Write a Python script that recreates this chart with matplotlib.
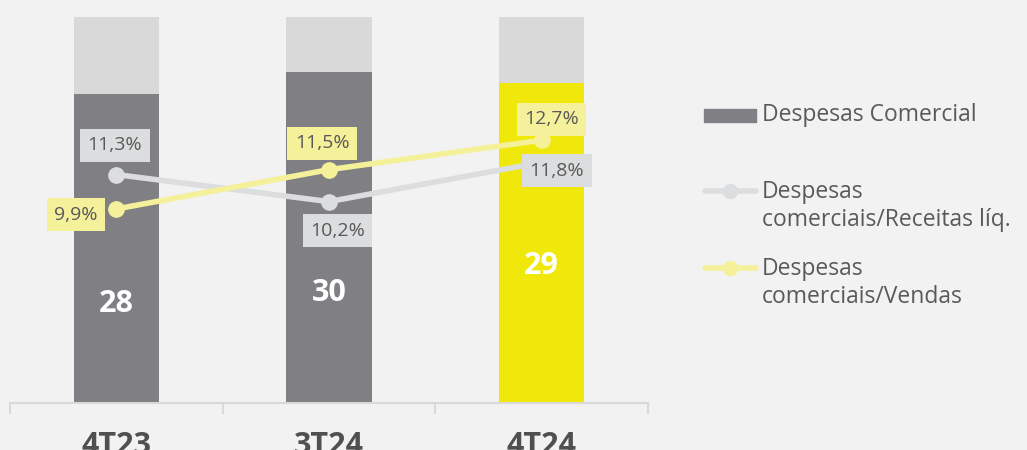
import numpy as np
import matplotlib
matplotlib.use("Agg")
import matplotlib.pyplot as plt
from matplotlib.patches import Rectangle
from matplotlib.lines import Line2D

# dados
trimestres = ["4T23", "3T24", "4T24"]
desp_comercial = [28, 30, 29]
fundo = [35, 35, 35]
pct_receita = [11.3, 10.2, 11.8]
pct_vendas = [9.9, 11.5, 12.7]
pos_valor = [9.0, 10.0, 12.4]  # altura dos números dentro das barras

plt.rcParams['font.family'] = ['Open Sans', 'DejaVu Sans']
BG = "#F2F2F2"
CINZA = "#808084"
CLARO = "#D9D9D9"
AMARELO = "#F0E80A"
AMARELO_L = "#F5F09A"
CINZA_L = "#DCDDDE"
TXT = "#595959"

fig = plt.figure(figsize=(10.27, 4.5), dpi=100)
fig.patch.set_facecolor(BG)
ax = fig.add_axes([10/1027, 47/450, 638/1027, 393/450])#eixo principal
ax.set_facecolor(BG)
x = np.arange(len(trimestres))
cores = [CINZA, CINZA, AMARELO]
ax.bar(x, fundo, width=0.4, color=CLARO, zorder=1)
ax.bar(x, desp_comercial, width=0.4, color=cores, zorder=2)
for xi, v, p in zip(x, desp_comercial, pos_valor):
    ax.text(xi, p, f"{v}", ha="center", va="center", color="white",
            fontsize=22, fontweight="bold", zorder=3)
ax.set_xlim(-0.5, 2.5)
ax.set_ylim(0, 35.6)
for s in ["top", "right", "left"]:
    ax.spines[s].set_visible(False)
ax.spines["bottom"].set_color(CLARO)
ax.spines["bottom"].set_linewidth(1.5)
ax.set_yticks([])
ax.set_xticks([-0.5, 0.5, 1.5, 2.5], minor=False)
ax.set_xticklabels([])
ax.tick_params(axis="x", which="major", length=8, color=CLARO, width=1.5)
ax.set_xticks(x, minor=True)
ax.set_xticklabels(trimestres, minor=True)
ax.tick_params(axis="x", which="minor", length=0, pad=20, labelsize=22,
               labelcolor="#505050")
for t in ax.get_xticklabels(minor=True):
    t.set_fontweight("bold")

# eixo secundário
ax2 = ax.twinx()
ax2.set_ylim(2, 18)
ax2.axis("off")
ax2.plot(x, pct_receita, color=CINZA_L, lw=4, marker="o", ms=11, zorder=4,
         solid_capstyle="round")
ax2.plot(x, pct_vendas, color=AMARELO_L, lw=4, marker="o", ms=11, zorder=5,
         solid_capstyle="round")

def rotulo(xi, yi, dx, dy, txt, cor):
    ax2.annotate(txt, (xi, yi), xytext=(dx, dy), textcoords="offset points",
                 ha="center", va="center", fontsize=14, color=TXT, zorder=6,
                 bbox=dict(boxstyle="square,pad=0.38", fc=cor, ec="none"))

# rótulos (deslocamento em pontos)
rotulo(x[0], pct_receita[0], -1, 21, "11,3%", CINZA_L)
rotulo(x[1], pct_receita[1], 6, -21, "10,2%", CINZA_L)
rotulo(x[2], pct_receita[2], 11, -6, "11,8%", CINZA_L)
rotulo(x[0], pct_vendas[0], -29, -4, "9,9%", AMARELO_L)
rotulo(x[1], pct_vendas[1], -5, 19, "11,5%", AMARELO_L)
rotulo(x[2], pct_vendas[2], 7, 15, "12,7%", AMARELO_L)

# legenda manual
def fx(px): return px / 1027
def fy(py): return 1 - py / 450
fig.add_artist(Rectangle((fx(704), fy(122)), fx(52), 13/450, color=CINZA,
                         transform=fig.transFigure))
fig.text(fx(762), fy(115), "Despesas Comercial", fontsize=16.5, color=TXT, va="center")
for yy, cor, l1, l2 in [(191, CINZA_L, "Despesas", "comerciais/Receitas líq."),
                        (268, AMARELO_L, "Despesas", "comerciais/Vendas")]:
    fig.add_artist(Line2D([fx(705), fx(756)], [fy(yy), fy(yy)], color=cor, lw=4,
                          solid_capstyle="round", transform=fig.transFigure))
    fig.add_artist(Line2D([fx(730)], [fy(yy)], color=cor, marker="o", ms=10,
                          transform=fig.transFigure))
    fig.text(fx(762), fy(yy + 1), l1, fontsize=16.5, color=TXT, va="center")
    fig.text(fx(762), fy(yy + 29), l2, fontsize=16.5, color=TXT, va="center")

fig.savefig("out.png", dpi=100, facecolor=BG)
